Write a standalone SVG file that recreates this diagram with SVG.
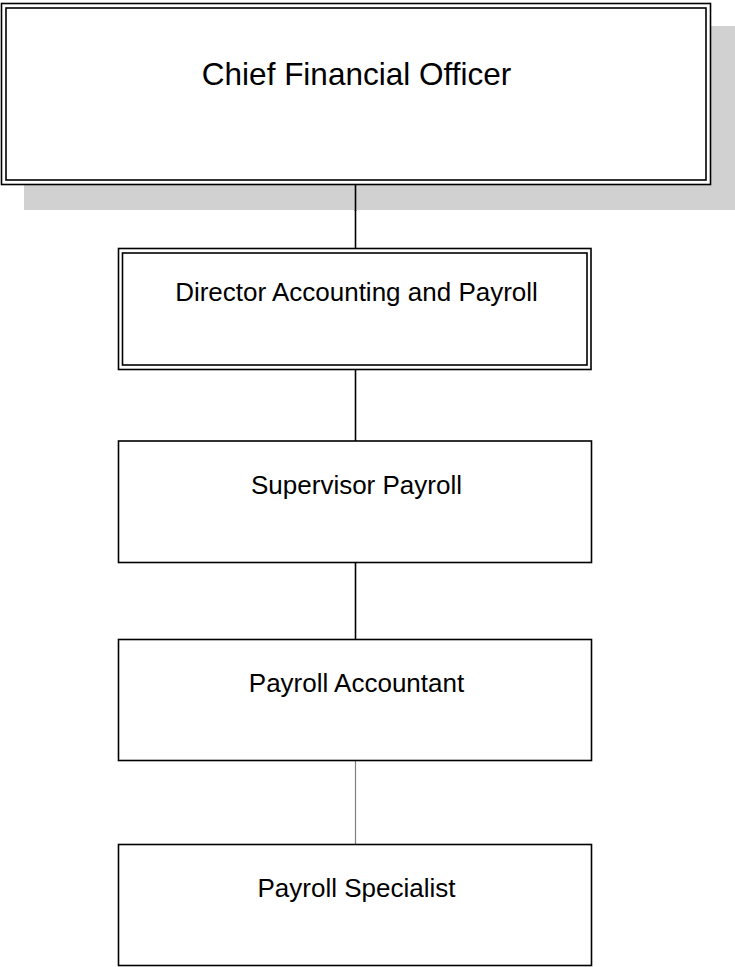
<svg xmlns="http://www.w3.org/2000/svg" width="735" height="967" viewBox="0 0 735 967">
<style>
.box{fill:#fff;stroke:#000;stroke-width:1.6}
.dbl{fill:none;stroke:#000;stroke-width:1.6}
.lbl{font-family:"Liberation Sans",Arial,sans-serif;fill:#000;text-anchor:middle}
.conn{stroke:#000;stroke-width:1.6;fill:none}
</style>
<rect width="735" height="967" fill="#fff"/>
<g id="connectors">
<line class="conn" x1="355.5" y1="185" x2="355.5" y2="248"/>
<line class="conn" x1="355.5" y1="370" x2="355.5" y2="441"/>
<line class="conn" x1="355.5" y1="563" x2="355.5" y2="639"/>
<line x1="355.5" y1="761" x2="355.5" y2="844" stroke="#808080" stroke-width="1.2"/>
</g>
<g id="cfo">
<rect x="24" y="26" width="711" height="184" fill="#d1d1d1"/>
<line class="conn" x1="355.5" y1="185" x2="355.5" y2="211"/>
<rect class="box" x="1.5" y="3.5" width="709" height="181"/>
<rect class="dbl" x="6" y="8" width="700" height="172"/>
<text class="lbl" x="356.5" y="85" font-size="31.5">Chief Financial Officer</text>
</g>
<g id="director">
<rect class="box" x="118.5" y="248.5" width="472.5" height="121"/>
<rect class="dbl" x="122.5" y="253" width="464.5" height="112"/>
<text class="lbl" x="356.5" y="301" font-size="26">Director Accounting and Payroll</text>
</g>
<g id="supervisor">
<rect class="box" x="118.5" y="441" width="473" height="121.5"/>
<text class="lbl" x="356.5" y="494" font-size="26">Supervisor Payroll</text>
</g>
<g id="accountant">
<rect class="box" x="118.5" y="639.5" width="473" height="121"/>
<text class="lbl" x="356.5" y="691.5" font-size="26">Payroll Accountant</text>
</g>
<g id="specialist">
<rect class="box" x="118.5" y="844.5" width="473" height="121"/>
<text class="lbl" x="356.5" y="897" font-size="26">Payroll Specialist</text>
</g>
</svg>
